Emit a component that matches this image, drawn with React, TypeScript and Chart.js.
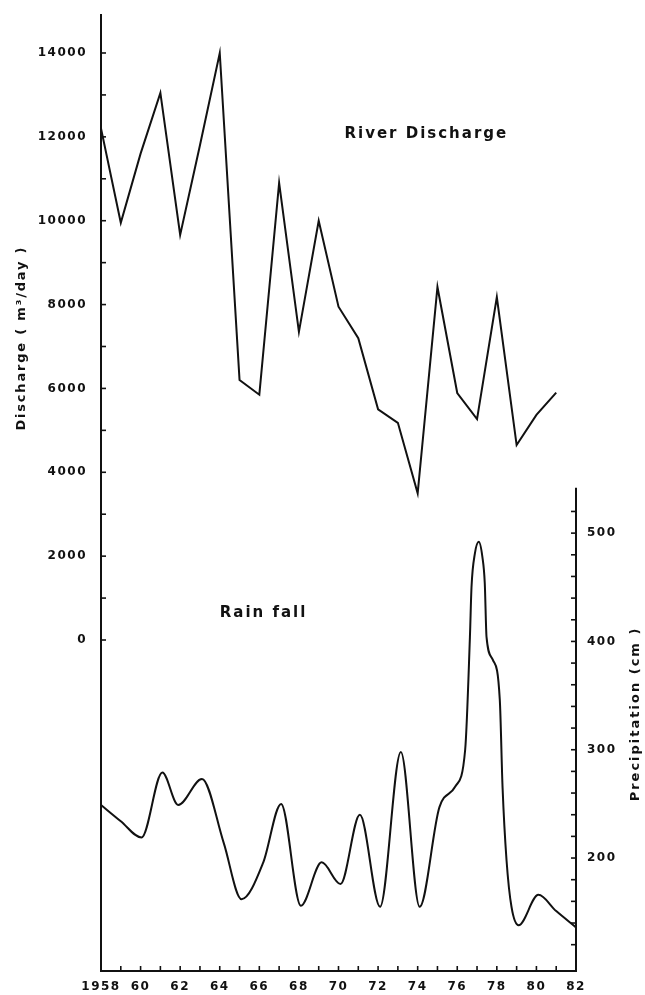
import React, { useEffect, useRef } from 'react';
import { Chart, registerables } from 'chart.js';

Chart.register(...registerables);

// ---- Data ----
const dischargeYears = [1958, 1959, 1960, 1961, 1962, 1963, 1964, 1965, 1966, 1967, 1968, 1969, 1970, 1971, 1972, 1973, 1974, 1975, 1976, 1977, 1978, 1979, 1980, 1981];
const discharge = [12200, 9950, 11600, 13050, 9660, 11800, 14000, 6200, 5850, 10900, 7350, 10000, 7950, 7200, 5500, 5180, 3500, 8420, 5890, 5270, 8180, 4650, 5370, 5900];

const rainYears = [1958, 1959, 1960.05, 1961.1, 1961.9, 1963.1, 1964.2, 1965.1, 1966.2, 1967.1, 1968.1, 1969.15, 1970.1, 1971.08, 1972.1, 1973.15, 1974.1, 1975.1, 1975.9, 1976.4, 1976.64, 1976.72, 1976.89, 1977.09, 1977.27, 1977.39, 1977.48, 1977.8, 1978.15, 1978.29, 1978.49, 1978.74, 1979.1, 1980.1, 1981, 1982];
const rainfall = [249, 234, 219, 279, 249, 273, 214, 162, 196, 250, 156, 196, 176, 240, 155, 298, 155, 247, 266, 300, 404, 450, 481, 492, 478, 454, 404, 383, 346, 265, 198, 155, 138, 166, 151, 136];

// tick values (marks) and which carry labels
const yearTicks = [1958, 1959, 1960, 1961, 1962, 1963, 1964, 1965, 1966, 1967, 1968, 1969, 1970, 1971, 1972, 1973, 1974, 1975, 1976, 1977, 1978, 1979, 1980, 1981, 1982];
const yearLabels = ['1958', '', '60', '', '62', '', '64', '', '66', '', '68', '', '70', '', '72', '', '74', '', '76', '', '78', '', '80', '', '82'];
const dischargeTicks = [0, 1000, 2000, 3000, 4000, 5000, 6000, 7000, 8000, 9000, 10000, 11000, 12000, 13000, 14000];
const dischargeLabels = ['0', '', '2000', '', '4000', '', '6000', '', '8000', '', '10000', '', '12000', '', '14000'];
const rainTicks = [120, 140, 160, 180, 200, 220, 240, 260, 280, 300, 320, 340, 360, 380, 400, 420, 440, 460, 480, 500, 520];
const rainLabels = ['', '', '', '', '200', '', '', '', '', '300', '', '', '', '', '400', '', '', '', '', '500', ''];

const seriesTitles = { discharge: 'River Discharge', rain: 'Rain fall' };
const axisTitles = { left: 'Discharge ( m³/day )', right: 'Precipitation (cm )' };

// ---- Style ----
const INK = '#111111';
const FONT = "'DejaVu Sans', sans-serif";
const RAIN_AXIS_TOP = 542;

const labelFrom = (vals: number[], labels: string[]) => (v: any) => {
  const i = vals.indexOf(Number(v));
  return i >= 0 ? labels[i] : '';
};

const decorPlugin = {
  id: 'decor',
  beforeDraw(chart: any) {
    (chart.ctx as any).letterSpacing = '1.5px';
  },
  afterDraw(chart: any) {
    const { ctx } = chart;
    const x = chart.scales.x;
    const y = chart.scales.y;
    const y1 = chart.scales.y1;
    ctx.save();
    ctx.strokeStyle = INK;
    ctx.fillStyle = INK;
    ctx.lineCap = 'butt';
    const seg = (a: number, b: number, c: number, d: number) => {
      ctx.beginPath();
      ctx.moveTo(a, b);
      ctx.lineTo(c, d);
      ctx.stroke();
    };
    ctx.lineWidth = 1.6;
    dischargeTicks.forEach((v) => {
      const py = y.getPixelForValue(v);
      seg(x.left, py, x.left + 5, py);
    });
    yearTicks.forEach((v) => {
      if (v > x.min && v < x.max) {
        const px = x.getPixelForValue(v);
        seg(px, y.bottom, px, y.bottom - 5);
      }
    });
    ctx.lineWidth = 2;
    seg(x.right, y1.getPixelForValue(RAIN_AXIS_TOP), x.right, y1.bottom + 1);
    ctx.lineWidth = 1.6;
    rainTicks.forEach((v) => {
      const py = y1.getPixelForValue(v);
      seg(x.right, py, x.right - 5, py);
    });

    // series annotations
    (ctx as any).letterSpacing = '2px';
    ctx.font = `bold 15px ${FONT}`;
    ctx.textAlign = 'left';
    ctx.textBaseline = 'middle';
    ctx.fillText(seriesTitles.discharge, x.getPixelForValue(1970.3), y.getPixelForValue(12060));
    ctx.fillText(seriesTitles.rain, x.getPixelForValue(1964.0), y.getPixelForValue(640));

    // axis titles
    ctx.textAlign = 'center';
    ctx.save();
    (ctx as any).letterSpacing = '1.8px';
    ctx.font = `bold 13px ${FONT}`;
    ctx.translate(22, y.getPixelForValue(7200));
    ctx.rotate(-Math.PI / 2);
    ctx.fillText(axisTitles.left, 0, 0);
    ctx.restore();
    ctx.save();
    (ctx as any).letterSpacing = '2px';
    ctx.font = `bold 13px ${FONT}`;
    ctx.translate(636, y1.getPixelForValue(333));
    ctx.rotate(-Math.PI / 2);
    ctx.fillText(axisTitles.right, 0, 0);
    ctx.restore();
    ctx.restore();
  },
};

const tickFont = { family: FONT, size: 12, weight: 'bold' as const };

export default function App() {
  const ref = useRef<HTMLCanvasElement>(null);
  useEffect(() => {
    const canvas = ref.current;
    if (!canvas) return;
    const chart = new Chart(canvas, {
      type: 'line',
      data: {
        datasets: [
          {
            label: seriesTitles.discharge,
            data: dischargeYears.map((yr, i) => ({ x: yr, y: discharge[i] })),
            xAxisID: 'x',
            yAxisID: 'y',
            borderColor: INK,
            borderWidth: 2,
            pointRadius: 0,
            tension: 0,
            fill: false,
          },
          {
            label: seriesTitles.rain,
            data: rainYears.map((yr, i) => ({ x: yr, y: rainfall[i] })),
            xAxisID: 'x',
            yAxisID: 'y1',
            borderColor: INK,
            borderWidth: 2,
            pointRadius: 0,
            cubicInterpolationMode: 'monotone',
            fill: false,
          },
        ],
      },
      options: {
        responsive: false,
        animation: false,
        layout: { padding: { top: 15, left: 0, right: 0, bottom: 0 } },
        plugins: { legend: { display: false }, tooltip: { enabled: false } },
        scales: {
          x: {
            type: 'linear',
            position: 'bottom',
            min: 1958,
            max: 1982,
            afterBuildTicks: (s: any) => { s.ticks = yearTicks.map((v) => ({ value: v })); },
            afterFit: (s: any) => { s.height = 24; s.paddingLeft = 0; s.paddingRight = 0; },
            grid: { display: false, drawTicks: false },
            border: { display: true, color: INK, width: 2 },
            ticks: {
              autoSkip: false,
              maxRotation: 0,
              padding: 9,
              color: INK,
              font: tickFont,
              callback: labelFrom(yearTicks, yearLabels),
            },
          },
          y: {
            type: 'linear',
            position: 'left',
            min: -7894,
            max: 14906,
            afterBuildTicks: (s: any) => { s.ticks = dischargeTicks.map((v) => ({ value: v })); },
            afterFit: (s: any) => { s.width = 101; s.paddingTop = 0; s.paddingBottom = 0; },
            grid: { display: false, drawTicks: false },
            border: { display: true, color: INK, width: 2 },
            ticks: {
              autoSkip: false,
              padding: 14,
              color: INK,
              font: tickFont,
              callback: labelFrom(dischargeTicks, dischargeLabels),
            },
          },
          y1: {
            type: 'linear',
            position: 'right',
            min: 95.7,
            max: 978.4,
            afterBuildTicks: (s: any) => { s.ticks = rainTicks.map((v) => ({ value: v })); },
            afterFit: (s: any) => { s.width = 69; s.paddingTop = 0; s.paddingBottom = 0; },
            grid: { display: false, drawTicks: false },
            border: { display: false },
            ticks: {
              autoSkip: false,
              padding: 11,
              color: INK,
              font: tickFont,
              callback: labelFrom(rainTicks, rainLabels),
            },
          },
        },
      } as any,
      plugins: [decorPlugin],
    });
    return () => chart.destroy();
  }, []);
  return (
    <div style={{ position: 'fixed', left: 0, top: 0, width: 645, height: 995, background: '#fff' }}>
      <canvas ref={ref} width={645} height={995} style={{ display: 'block', width: 645, height: 995 }} />
    </div>
  );
}
